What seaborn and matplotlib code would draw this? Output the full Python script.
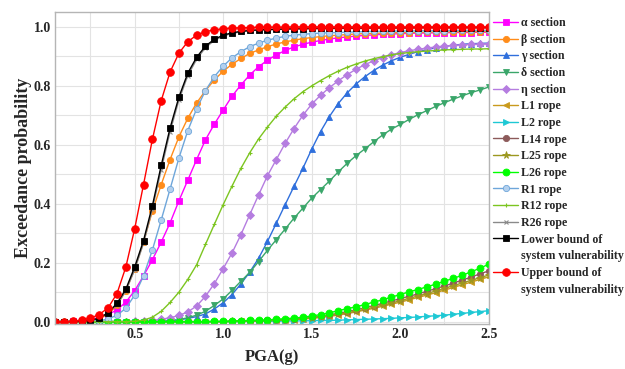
import numpy as np
import pandas as pd
import matplotlib.pyplot as plt
import seaborn as sns
from matplotlib.lines import Line2D
from matplotlib.ticker import MultipleLocator

sns.set_style('whitegrid')
plt.rcParams['font.family'] = ['Liberation Serif', 'DejaVu Serif']
plt.rcParams['font.weight'] = 'bold'

# PGA steps 0.05 ... 2.50
pga = np.round(np.arange(1, 51) * 0.05, 2)

# exceedance probabilities, 10 values per row
alpha_sec = [0.000, 0.000, 0.001, 0.003, 0.007, 0.014, 0.024, 0.040, 0.066, 0.105,
             0.155, 0.210, 0.270, 0.335, 0.410, 0.480, 0.550, 0.617, 0.670, 0.718,
             0.765, 0.803, 0.837, 0.865, 0.887, 0.905, 0.920, 0.932, 0.941, 0.948,
             0.954, 0.959, 0.963, 0.966, 0.969, 0.971, 0.973, 0.975, 0.976, 0.977,
             0.978, 0.979, 0.979, 0.980, 0.980, 0.981, 0.981, 0.981, 0.982, 0.982]
beta_sec = [0.000, 0.000, 0.000, 0.001, 0.003, 0.010, 0.025, 0.055, 0.105, 0.178,
            0.270, 0.375, 0.465, 0.550, 0.627, 0.690, 0.742, 0.784, 0.820, 0.850,
            0.873, 0.893, 0.910, 0.922, 0.933, 0.942, 0.949, 0.955, 0.960, 0.964,
            0.967, 0.970, 0.972, 0.974, 0.976, 0.977, 0.978, 0.979, 0.980, 0.981,
            0.981, 0.982, 0.982, 0.983, 0.983, 0.983, 0.984, 0.984, 0.984, 0.985]
gamma_sec = [0.000, 0.000, 0.000, 0.000, 0.000, 0.000, 0.000, 0.000, 0.000, 0.000,
             0.000, 0.000, 0.001, 0.003, 0.006, 0.011, 0.017, 0.026, 0.043, 0.064,
             0.092, 0.128, 0.168, 0.215, 0.272, 0.334, 0.397, 0.459, 0.520, 0.585,
             0.645, 0.696, 0.740, 0.776, 0.806, 0.831, 0.852, 0.870, 0.885, 0.897,
             0.907, 0.916, 0.923, 0.929, 0.934, 0.938, 0.941, 0.943, 0.944, 0.945]
delta_sec = [0.000, 0.000, 0.000, 0.000, 0.000, 0.000, 0.000, 0.000, 0.000, 0.000,
             0.000, 0.000, 0.001, 0.003, 0.007, 0.013, 0.022, 0.035, 0.055, 0.077,
             0.106, 0.137, 0.167, 0.204, 0.242, 0.278, 0.314, 0.351, 0.385, 0.419,
             0.448, 0.477, 0.508, 0.537, 0.563, 0.586, 0.610, 0.633, 0.653, 0.669,
             0.686, 0.702, 0.716, 0.730, 0.743, 0.755, 0.766, 0.777, 0.786, 0.796]
eta_sec = [0.000, 0.000, 0.000, 0.000, 0.000, 0.000, 0.000, 0.000, 0.000, 0.001,
           0.002, 0.004, 0.008, 0.013, 0.021, 0.033, 0.053, 0.086, 0.129, 0.180,
           0.233, 0.295, 0.363, 0.430, 0.495, 0.550, 0.605, 0.655, 0.700, 0.738,
           0.768, 0.794, 0.817, 0.838, 0.856, 0.872, 0.885, 0.896, 0.905, 0.913,
           0.919, 0.924, 0.928, 0.932, 0.935, 0.937, 0.939, 0.941, 0.942, 0.943]
l1_rope = [0.000, 0.000, 0.000, 0.000, 0.000, 0.000, 0.000, 0.000, 0.000, 0.000,
           0.000, 0.000, 0.000, 0.000, 0.000, 0.000, 0.000, 0.000, 0.000, 0.000,
           0.000, 0.001, 0.001, 0.002, 0.003, 0.004, 0.005, 0.007, 0.009, 0.011,
           0.014, 0.018, 0.022, 0.027, 0.033, 0.039, 0.045, 0.052, 0.059, 0.066,
           0.074, 0.082, 0.090, 0.098, 0.107, 0.116, 0.125, 0.134, 0.143, 0.152]
l2_rope = [0.000, 0.000, 0.000, 0.000, 0.000, 0.000, 0.000, 0.000, 0.000, 0.000,
           0.000, 0.000, 0.000, 0.000, 0.000, 0.000, 0.000, 0.000, 0.000, 0.000,
           0.000, 0.000, 0.001, 0.001, 0.001, 0.001, 0.002, 0.002, 0.003, 0.003,
           0.004, 0.004, 0.005, 0.006, 0.007, 0.008, 0.009, 0.010, 0.011, 0.013,
           0.014, 0.016, 0.018, 0.020, 0.022, 0.025, 0.028, 0.031, 0.034, 0.037]
l14_rope = [0.000, 0.000, 0.000, 0.000, 0.000, 0.000, 0.000, 0.000, 0.000, 0.000,
            0.000, 0.000, 0.000, 0.000, 0.000, 0.000, 0.000, 0.000, 0.000, 0.000,
            0.001, 0.001, 0.002, 0.003, 0.004, 0.005, 0.007, 0.009, 0.011, 0.014,
            0.018, 0.023, 0.028, 0.034, 0.040, 0.047, 0.054, 0.062, 0.070, 0.078,
            0.086, 0.094, 0.103, 0.112, 0.121, 0.131, 0.141, 0.151, 0.162, 0.172]
l25_rope = [0.000, 0.000, 0.000, 0.000, 0.000, 0.000, 0.000, 0.000, 0.000, 0.000,
            0.000, 0.000, 0.000, 0.000, 0.000, 0.000, 0.000, 0.000, 0.000, 0.000,
            0.001, 0.001, 0.002, 0.002, 0.003, 0.004, 0.006, 0.008, 0.010, 0.012,
            0.016, 0.020, 0.025, 0.030, 0.036, 0.042, 0.049, 0.056, 0.063, 0.071,
            0.079, 0.087, 0.095, 0.104, 0.113, 0.122, 0.131, 0.140, 0.149, 0.158]
l26_rope = [0.000, 0.000, 0.000, 0.000, 0.000, 0.000, 0.000, 0.000, 0.000, 0.000,
            0.000, 0.000, 0.000, 0.000, 0.000, 0.000, 0.000, 0.000, 0.001, 0.001,
            0.002, 0.003, 0.004, 0.005, 0.006, 0.008, 0.010, 0.012, 0.015, 0.019,
            0.024, 0.030, 0.037, 0.044, 0.050, 0.058, 0.066, 0.074, 0.083, 0.092,
            0.101, 0.109, 0.118, 0.127, 0.137, 0.147, 0.157, 0.169, 0.181, 0.195]
r1_rope = [0.000, 0.000, 0.000, 0.000, 0.001, 0.003, 0.009, 0.022, 0.045, 0.090,
           0.155, 0.243, 0.345, 0.450, 0.555, 0.648, 0.722, 0.784, 0.831, 0.867,
           0.895, 0.916, 0.933, 0.945, 0.955, 0.962, 0.968, 0.972, 0.975, 0.977,
           0.979, 0.980, 0.981, 0.982, 0.983, 0.984, 0.985, 0.985, 0.986, 0.986,
           0.986, 0.987, 0.987, 0.987, 0.987, 0.988, 0.988, 0.988, 0.988, 0.988]
r12_rope = [0.000, 0.000, 0.000, 0.000, 0.000, 0.000, 0.000, 0.000, 0.000, 0.001,
            0.005, 0.015, 0.035, 0.065, 0.100, 0.143, 0.193, 0.262, 0.330, 0.397,
            0.460, 0.520, 0.573, 0.620, 0.660, 0.697, 0.728, 0.756, 0.780, 0.800,
            0.818, 0.835, 0.850, 0.863, 0.874, 0.884, 0.892, 0.899, 0.905, 0.910,
            0.913, 0.916, 0.918, 0.920, 0.922, 0.923, 0.924, 0.925, 0.925, 0.926]
r26_rope = [0.000, 0.000, 0.000, 0.001, 0.004, 0.011, 0.028, 0.058, 0.104, 0.176,
            0.266, 0.382, 0.516, 0.645, 0.752, 0.835, 0.890, 0.930, 0.954, 0.969,
            0.978, 0.983, 0.987, 0.989, 0.990, 0.991, 0.992, 0.993, 0.993, 0.994,
            0.994, 0.994, 0.995, 0.995, 0.995, 0.995, 0.996, 0.996, 0.996, 0.996,
            0.996, 0.997, 0.997, 0.997, 0.997, 0.997, 0.997, 0.997, 0.997, 0.997]
lower_bound = [0.000, 0.000, 0.000, 0.001, 0.004, 0.012, 0.030, 0.062, 0.110, 0.185,
               0.275, 0.393, 0.530, 0.657, 0.762, 0.843, 0.897, 0.935, 0.958, 0.972,
               0.980, 0.985, 0.988, 0.990, 0.991, 0.992, 0.993, 0.994, 0.994, 0.995,
               0.995, 0.995, 0.996, 0.996, 0.996, 0.996, 0.997, 0.997, 0.997, 0.997,
               0.997, 0.998, 0.998, 0.998, 0.998, 0.998, 0.998, 0.998, 0.998, 0.998]
upper_bound = [0.000, 0.000, 0.001, 0.005, 0.012, 0.024, 0.047, 0.095, 0.185, 0.315,
               0.465, 0.618, 0.750, 0.847, 0.911, 0.950, 0.972, 0.984, 0.990, 0.994,
               0.996, 0.997, 0.998, 0.999, 0.999, 0.999, 0.999, 1.000, 1.000, 1.000,
               1.000, 1.000, 1.000, 1.000, 1.000, 1.000, 1.000, 1.000, 1.000, 1.000,
               1.000, 1.000, 1.000, 1.000, 1.000, 1.000, 1.000, 1.000, 1.000, 1.000]

series = [
    ('α section', alpha_sec), ('β section', beta_sec), ('γ section', gamma_sec),
    ('δ section', delta_sec), ('η section', eta_sec), ('L1 rope', l1_rope),
    ('L2 rope', l2_rope), ('L14 rope', l14_rope), ('L25 rope', l25_rope),
    ('L26 rope', l26_rope), ('R1 rope', r1_rope), ('R12 rope', r12_rope),
    ('R26 rope', r26_rope), ('Lower bound of', lower_bound),
    ('Upper bound of', upper_bound),
]
second_line = 'system vulnerability'

# color, marker, marker size, marker face
styles = [
    ('#ff00ff', 's', 4.0, None), ('#ff8c1a', 'o', 4.5, None), ('#2f6fdc', '^', 4.5, None),
    ('#3aa66a', 'v', 4.5, None), ('#b57de0', 'D', 3.8, None), ('#c99a1d', '<', 4.5, None),
    ('#1ec8d4', '>', 4.5, None), ('#8c5a5a', 'o', 4.5, None), ('#9c9820', '*', 5.5, None),
    ('#00ff00', 'o', 5.0, None), ('#6ea6da', 'o', 4.5, '#b3d0ee'), ('#7cc520', '+', 3.0, None),
    ('#8a8a8a', 'x', 3.0, None), ('black', 's', 5.0, None), ('#ff0000', 'o', 5.5, None),
]

fig = plt.figure(figsize=(6.25, 3.69), dpi=100)
ax = fig.add_axes([0.088, 0.122, 0.694, 0.845])

for (label, vals), (col, mk, ms, face) in zip(series, styles):
    df = pd.DataFrame({'pga': pga, 'p': vals})
    sns.lineplot(data=df, x='pga', y='p', ax=ax, label=label, color=col, lw=1.0,
                 marker=mk, markersize=ms, mec=col, mfc=face if face else col,
                 mew=0.8 if mk in '+x' else 0.6)

ax.set_xlim(0.05, 2.5)
ax.set_ylim(-0.008, 1.05)
ax.xaxis.set_major_locator(MultipleLocator(0.5))
ax.xaxis.set_minor_locator(MultipleLocator(0.25))
ax.yaxis.set_major_locator(MultipleLocator(0.2))
ax.yaxis.set_minor_locator(MultipleLocator(0.1))
ax.grid(True, which='both', color='#e3e3e3', lw=0.8)
ax.tick_params(which='both', length=0, labelsize=10, pad=3)
for lab in ax.get_xticklabels() + ax.get_yticklabels():
    lab.set_fontweight('bold')
for sp in ax.spines.values():
    sp.set_color('#b5b5b5')
    sp.set_linewidth(1.0)

ax.set_xlabel('PGA(g)', fontsize=12, fontweight='bold', labelpad=6)
ax.set_ylabel('Exceedance probability', fontsize=13, fontweight='bold', labelpad=1)

# two-line bound labels: second line as its own legend row with an empty handle
handles, labels = ax.get_legend_handles_labels()
blank = Line2D([], [], color='none')
handles = handles[:14] + [blank] + handles[14:] + [blank]
labels = labels[:14] + [second_line] + labels[14:] + [second_line]
ax.legend(handles, labels, loc='upper left', bbox_to_anchor=(1.005, 0.992), frameon=False,
          borderaxespad=0, borderpad=0.2, handlelength=2.1, handletextpad=0.25,
          labelspacing=0.39, prop={'weight': 'bold', 'size': 8.6})

fig.savefig('out.png', dpi=100)
